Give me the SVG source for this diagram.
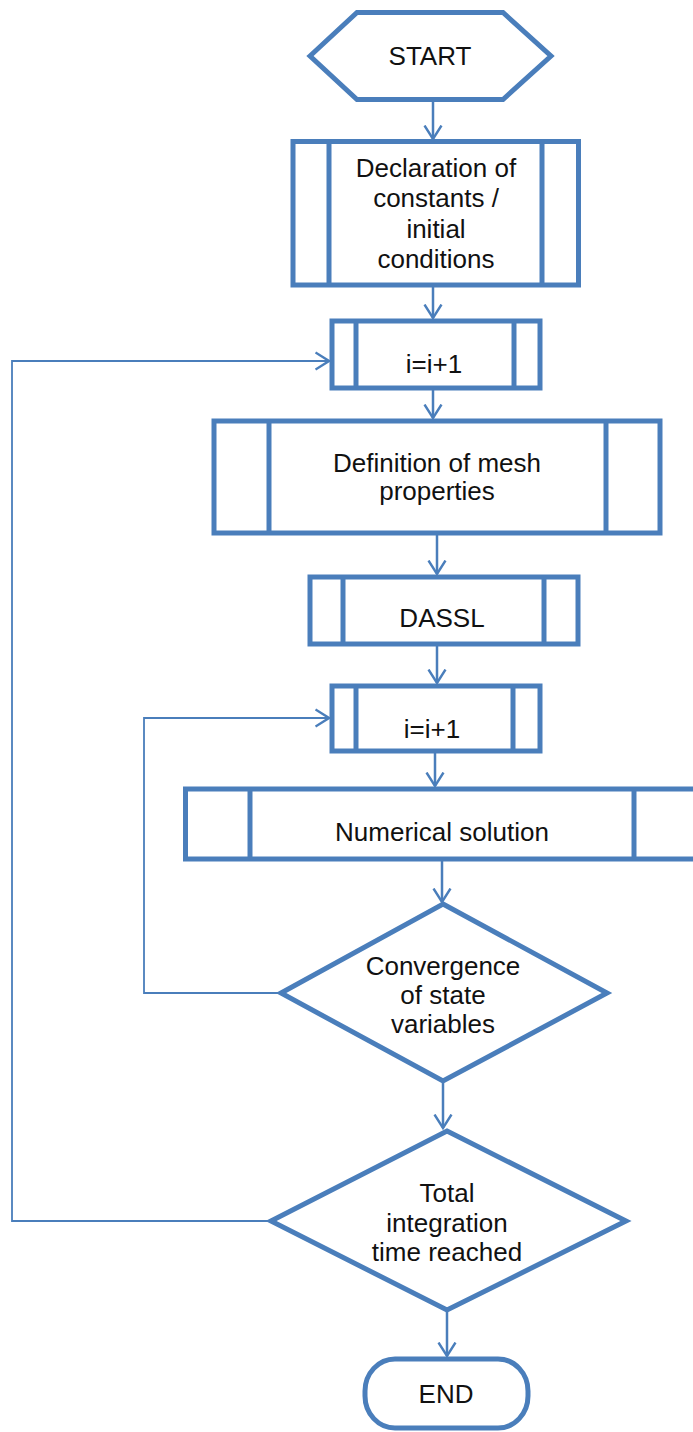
<svg xmlns="http://www.w3.org/2000/svg" width="693" height="1432" viewBox="0 0 693 1432">
  <defs>
    <style>
      .shape { fill: #ffffff; stroke: #4a7ebb; stroke-width: 5; stroke-linejoin: miter; }
      .bar { fill: none; stroke: #4a7ebb; stroke-width: 5; }
      .flow { fill: none; stroke: #4a7ebb; stroke-width: 2.5; }
      .loop { fill: none; stroke: #4a7ebb; stroke-width: 1.8; }
      .lbl { font-family: "Liberation Sans", Arial, sans-serif; font-size: 26px; fill: #111111; text-anchor: middle; }
    </style>
    <marker id="arrow" markerUnits="userSpaceOnUse" viewBox="0 0 16 20" markerWidth="16" markerHeight="20" refX="14.5" refY="10" orient="auto">
      <path d="M1,1.5 L14.5,10 L1,18.5" fill="none" stroke="#4a7ebb" stroke-width="2.4"/>
    </marker>
  </defs>
  <rect width="693" height="1432" fill="#ffffff"/>

  <!-- connectors -->
  <g id="connectors">
    <line class="flow" x1="433" y1="101" x2="433" y2="139" marker-end="url(#arrow)"/>
    <line class="flow" x1="433" y1="287" x2="433" y2="318" marker-end="url(#arrow)"/>
    <line class="flow" x1="433" y1="390" x2="433" y2="418" marker-end="url(#arrow)"/>
    <line class="flow" x1="437" y1="535" x2="437" y2="574" marker-end="url(#arrow)"/>
    <line class="flow" x1="437" y1="646" x2="437" y2="683" marker-end="url(#arrow)"/>
    <line class="flow" x1="435" y1="753" x2="435" y2="786" marker-end="url(#arrow)"/>
    <line class="flow" x1="442" y1="861" x2="442" y2="902" marker-end="url(#arrow)"/>
    <line class="flow" x1="443" y1="1083" x2="443" y2="1128" marker-end="url(#arrow)"/>
    <line class="flow" x1="447" y1="1312" x2="447" y2="1356" marker-end="url(#arrow)"/>
    <!-- outer loop: total time not reached -->
    <polyline class="loop" points="270,1221 12,1221 12,361 329,361" marker-end="url(#arrow)"/>
    <!-- inner loop: state variables not converged -->
    <polyline class="loop" points="280,993 144,993 144,718 329,718" marker-end="url(#arrow)"/>
  </g>

  <g id="start">
    <polygon class="shape" points="310,56 357,12.5 503,12.5 551,56 503,99.5 357,99.5"/>
    <text class="lbl" x="430" y="65">START</text>
  </g>

  <g id="declaration">
    <rect class="shape" x="293" y="141.5" width="285.5" height="143.5"/>
    <line class="bar" x1="329" y1="141.5" x2="329" y2="285"/>
    <line class="bar" x1="542" y1="141.5" x2="542" y2="285"/>
    <text class="lbl" x="436" y="177">Declaration of</text>
    <text class="lbl" x="436" y="207">constants /</text>
    <text class="lbl" x="436" y="238">initial</text>
    <text class="lbl" x="436" y="268">conditions</text>
  </g>

  <g id="increment-outer">
    <rect class="shape" x="332" y="321" width="208" height="67"/>
    <line class="bar" x1="356" y1="321" x2="356" y2="388"/>
    <line class="bar" x1="514" y1="321" x2="514" y2="388"/>
    <text class="lbl" x="434" y="373">i=i+1</text>
  </g>

  <g id="mesh">
    <rect class="shape" x="214" y="421" width="446" height="112"/>
    <line class="bar" x1="269" y1="421" x2="269" y2="533"/>
    <line class="bar" x1="606" y1="421" x2="606" y2="533"/>
    <text class="lbl" x="437" y="472">Definition of mesh</text>
    <text class="lbl" x="437" y="500">properties</text>
  </g>

  <g id="dassl">
    <rect class="shape" x="310" y="577" width="268" height="67"/>
    <line class="bar" x1="343" y1="577" x2="343" y2="644"/>
    <line class="bar" x1="544" y1="577" x2="544" y2="644"/>
    <text class="lbl" x="442" y="627">DASSL</text>
  </g>

  <g id="increment-inner">
    <rect class="shape" x="332" y="686" width="208" height="65"/>
    <line class="bar" x1="356" y1="686" x2="356" y2="751"/>
    <line class="bar" x1="513" y1="686" x2="513" y2="751"/>
    <text class="lbl" x="432" y="738">i=i+1</text>
  </g>

  <g id="numerical">
    <rect class="shape" x="185.5" y="789" width="530" height="70"/>
    <line class="bar" x1="250" y1="789" x2="250" y2="859"/>
    <line class="bar" x1="634" y1="789" x2="634" y2="859"/>
    <text class="lbl" x="442" y="841">Numerical solution</text>
  </g>

  <g id="convergence">
    <polygon class="shape" points="443,904 607,993 443,1081 281,993"/>
    <text class="lbl" x="443" y="975">Convergence</text>
    <text class="lbl" x="443" y="1004">of state</text>
    <text class="lbl" x="443" y="1033">variables</text>
  </g>

  <g id="total-time">
    <polygon class="shape" points="447,1131 626,1221 447,1310 271,1221"/>
    <text class="lbl" x="447" y="1202">Total</text>
    <text class="lbl" x="447" y="1232">integration</text>
    <text class="lbl" x="447" y="1261">time reached</text>
  </g>

  <g id="end">
    <rect class="shape" x="365" y="1359" width="163" height="69" rx="30" ry="32"/>
    <text class="lbl" x="446" y="1403">END</text>
  </g>
</svg>
